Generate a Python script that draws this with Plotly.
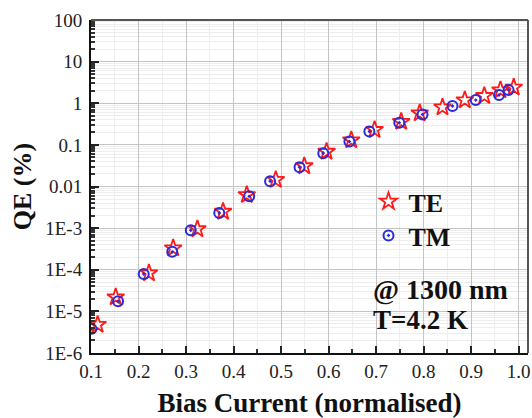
import plotly.graph_objects as go

# Data (Bias current normalised, QE in %)
te_bias = [0.114, 0.152, 0.222, 0.273, 0.324, 0.378, 0.428, 0.489, 0.549, 0.596,
           0.648, 0.697, 0.753, 0.792, 0.840, 0.887, 0.928, 0.962, 0.990]
te_qe = [4.8e-6, 2.2e-5, 8.3e-5, 3.3e-4, 9.5e-4, 2.5e-3, 6.3e-3, 0.0145, 0.031, 0.069,
         0.13, 0.23, 0.36, 0.58, 0.80, 1.19, 1.51, 2.07, 2.4]

tm_bias = [0.101, 0.157, 0.211, 0.271, 0.310, 0.370, 0.433, 0.477, 0.539, 0.589,
           0.644, 0.686, 0.749, 0.798, 0.861, 0.910, 0.959, 0.979]
tm_qe = [3.8e-6, 1.75e-5, 7.9e-5, 2.7e-4, 8.9e-4, 2.3e-3, 5.8e-3, 0.0134, 0.029, 0.063,
         0.12, 0.21, 0.34, 0.54, 0.86, 1.19, 1.57, 2.07]

y_tickvals = [1e-6, 1e-5, 1e-4, 1e-3, 1e-2, 1e-1, 1, 10, 100]
y_ticktext = ["1E-6", "1E-5", "1E-4", "1E-3", "0.01", "0.1", "1", "10", "100"]
x_tickvals = [0.1, 0.2, 0.3, 0.4, 0.5, 0.6, 0.7, 0.8, 0.9, 1.0]
x_ticktext = ["0.1", "0.2", "0.3", "0.4", "0.5", "0.6", "0.7", "0.8", "0.9", "1.0"]

y_minor = [m * d for d in y_tickvals[:-1] for m in range(2, 10)]

SERIF = "Liberation Serif, Times New Roman, serif"

fig = go.Figure()
fig.add_trace(go.Scatter(
    x=te_bias, y=te_qe, mode="markers", name="TE", legend="legend", showlegend=True,
    marker=dict(symbol="star-open", size=13, color="#ff1a1a", line=dict(width=1.8, color="#ff1a1a")),
))
fig.add_trace(go.Scatter(
    x=tm_bias, y=tm_qe, mode="markers", name="TM", legend="legend2", showlegend=True,
    marker=dict(symbol="circle-open-dot", size=10, color="#2a2ad8", line=dict(width=2, color="#2a2ad8")),
))

legend_common = dict(
    xanchor="left", yanchor="top",
    bgcolor="rgba(255,255,255,0)",
    font=dict(family=SERIF, size=26, color="#111", weight="bold"),
    itemsizing="trace",
)

fig.update_layout(
    width=532, height=418,
    showlegend=True,
    margin=dict(l=91, r=4, t=20, b=65, autoexpand=False),
    paper_bgcolor="white", plot_bgcolor="white",
    font=dict(family=SERIF, color="#1a1a1a"),
    legend=dict(x=0.635, y=0.5255, **legend_common),
    legend2=dict(x=0.635, y=0.4234, **legend_common),
    xaxis=dict(
        range=[0.1, 1.02],
        tickmode="array", tickvals=x_tickvals, ticktext=x_ticktext,
        ticks="inside", ticklen=7, tickwidth=1.5, tickcolor="#222",
        tickfont=dict(family=SERIF, size=19, color="#222"),
        showline=True, linecolor="#111", linewidth=2,
        showgrid=True, gridcolor="#c4c4c4", gridwidth=1,
        zeroline=False, automargin=False,
        minor=dict(dtick=0.05, tick0=0.1, ticks="inside", ticklen=4, tickcolor="#333",
                   showgrid=True, gridcolor="#eeeeee"),
        title=dict(text="<b>Bias Current (normalised)</b>",
                   font=dict(family=SERIF, size=27, color="#111"), standoff=14),
    ),
    yaxis=dict(
        type="log", range=[-6, 2],
        tickmode="array", tickvals=y_tickvals, ticktext=y_ticktext,
        ticks="inside", ticklen=8, tickwidth=1.5, tickcolor="#222",
        tickfont=dict(family=SERIF, size=19, color="#222"),
        ticklabelstandoff=3,
        showline=True, linecolor="#111", linewidth=2,
        showgrid=True, gridcolor="#c4c4c4", gridwidth=1,
        zeroline=False, automargin=False,
        minor=dict(tickmode="array", tickvals=y_minor, ticks="inside", ticklen=4, tickcolor="#333",
                   showgrid=True, gridcolor="#eeeeee"),
        title=dict(text="<b>QE (%)</b>",
                   font=dict(family=SERIF, size=26, color="#111"), standoff=6),
    ),
    annotations=[
        dict(text="<b>@ 1300 nm</b>", xref="paper", yref="paper", x=0.64, y=0.19,
             xanchor="left", yanchor="middle", showarrow=False,
             font=dict(family=SERIF, size=28, color="#111")),
        dict(text="<b>T=4.2 K</b>", xref="paper", yref="paper", x=0.64, y=0.10,
             xanchor="left", yanchor="middle", showarrow=False,
             font=dict(family=SERIF, size=27, color="#111")),
    ],
    shapes=[
        dict(type="line", xref="x domain", yref="y domain", x0=0, x1=1, y0=1, y1=1,
             line=dict(color="#555", width=2)),
        dict(type="line", xref="x domain", yref="y domain", x0=1, x1=1, y0=0, y1=1,
             line=dict(color="#555", width=2)),
    ],
)

# Remove the browser's default 8px body margin so the 532x418 figure fills the window exactly.
fig.write_html(
    "out.html",
    config={"displayModeBar": False},
    post_script="document.body.style.margin='0';document.body.style.overflow='hidden';",
)
